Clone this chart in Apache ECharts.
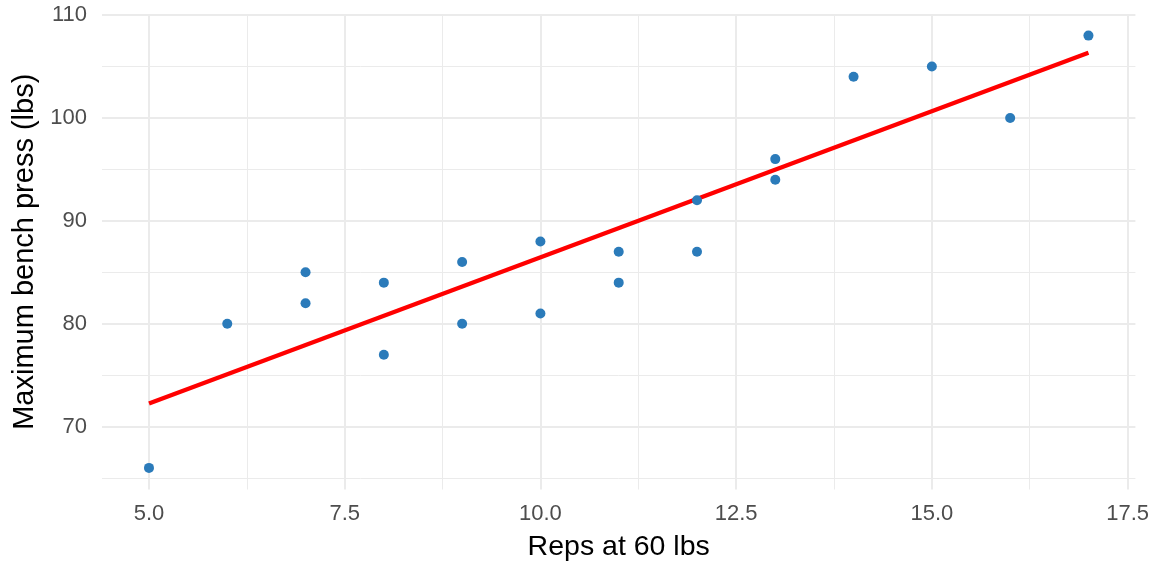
<!DOCTYPE html>
<html>
<head>
<meta charset="utf-8">
<script src="https://cdn.jsdelivr.net/npm/echarts@6/dist/echarts.min.js"></script>
<style>
html,body{margin:0;padding:0;background:#fff;}
#chart{width:1152px;height:576px;}
</style>
</head>
<body>
<div id="chart"></div>
<script>
const reps = [5, 6, 7, 7, 8, 8, 9, 9, 10, 10, 11, 11, 12, 12, 13, 13, 14, 15, 16, 17];
const bench = [66, 80, 85, 82, 84, 77, 86, 80, 88, 81, 87, 84, 92, 87, 96, 94, 104, 105, 100, 108];
const xTicks = [5.0, 7.5, 10.0, 12.5, 15.0, 17.5];
const xMinor = [6.25, 8.75, 11.25, 13.75, 16.25];
const yTicks = [70, 80, 90, 100, 110];
const yMinor = [65, 75, 85, 95, 105];

// least-squares fit (as geom_smooth(method = "lm"))
const n = reps.length;
const mx = reps.reduce((a, b) => a + b, 0) / n;
const my = bench.reduce((a, b) => a + b, 0) / n;
let sxy = 0, sxx = 0;
for (let i = 0; i < n; i++) { sxy += (reps[i] - mx) * (bench[i] - my); sxx += (reps[i] - mx) ** 2; }
const slope = sxy / sxx, intercept = my - slope * mx;
const xLo = Math.min(...reps), xHi = Math.max(...reps);
const fitLine = [[xLo, intercept + slope * xLo], [xHi, intercept + slope * xHi]];

const points = reps.map((x, i) => [x, bench[i]]);
const font = 'Liberation Sans, Arial, sans-serif';
const gridColor = '#ebebeb';

function ml(axis, vals, width) {
  return vals.map(v => ({ [axis]: v, lineStyle: { color: gridColor, width: width, type: 'solid' } }));
}

const chart = echarts.init(document.getElementById('chart'));
chart.setOption({
  animation: false,
  backgroundColor: '#ffffff',
  grid: { left: 102, right: 16, top: 14, bottom: 86.5, containLabel: false },
  xAxis: {
    type: 'value', min: 4.4, max: 17.6,
    name: 'Reps at 60 lbs', nameLocation: 'middle', nameGap: 43,
    nameTextStyle: { fontFamily: font, fontSize: 28.5, color: '#000000' },
    axisLine: { show: false }, axisTick: { show: false }, splitLine: { show: false },
    axisLabel: {
      customValues: xTicks, margin: 13,
      fontFamily: font, fontSize: 22, color: '#4d4d4d',
      formatter: v => Number(v).toFixed(1)
    }
  },
  yAxis: {
    type: 'value', min: 63.9, max: 110.1,
    name: 'Maximum bench press (lbs)', nameLocation: 'middle', nameGap: 61,
    nameTextStyle: { fontFamily: font, fontSize: 29, color: '#000000' },
    axisLine: { show: false }, axisTick: { show: false }, splitLine: { show: false },
    axisLabel: {
      customValues: yTicks, margin: 15,
      fontFamily: font, fontSize: 22, color: '#4d4d4d'
    }
  },
  series: [
    {
      type: 'scatter', data: [], z: 0, silent: true,
      markLine: {
        z: 0, silent: true, symbol: ['none', 'none'], label: { show: false }, animation: false,
        data: [].concat(ml('yAxis', yMinor, 1), ml('xAxis', xMinor, 1), ml('yAxis', yTicks, 2), ml('xAxis', xTicks, 2))
      }
    },
    {
      type: 'line', data: fitLine, showSymbol: false, symbol: 'none', z: 2,
      lineStyle: { color: '#ff0000', width: 4.3 }
    },
    {
      type: 'scatter', data: points, symbol: 'circle', symbolSize: 10, z: 3,
      itemStyle: { color: '#2b7bba', opacity: 1 }
    }
  ]
});
</script>
</body>
</html>
